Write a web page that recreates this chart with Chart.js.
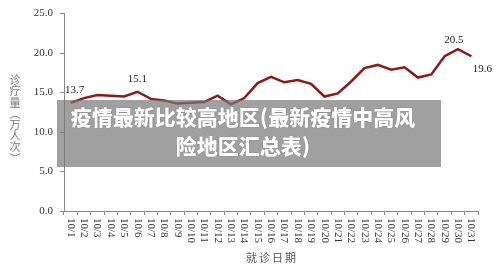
<!DOCTYPE html>
<html>
<head>
<meta charset="utf-8">
<script src="https://cdn.jsdelivr.net/npm/chart.js@4"></script>
<style>
  html, body { margin: 0; padding: 0; background: #fff; }
  #wrap { position: relative; width: 500px; height: 267px; }
  #banner {
    position: absolute; left: 57px; top: 100px; width: 384px; height: 67px;
    background: rgba(119,119,119,0.7);
    color: #fff; font-family: "Noto Sans CJK SC", sans-serif; font-weight: 900;
    font-size: 21px; line-height: 29px; text-align: center;
    padding: 2px 12px 0 0; box-sizing: border-box;
    text-shadow: 0 0 1px rgba(0,0,0,0.4);
  }
</style>
</head>
<body>
<div id="wrap">
  <canvas id="chart" width="500" height="267"></canvas>
  <div id="banner">疫情最新比较高地区(最新疫情中高风<br>险地区汇总表)</div>
</div>
<script>
const days = ['10/1','10/2','10/3','10/4','10/5','10/6','10/7','10/8','10/9','10/10',
  '10/11','10/12','10/13','10/14','10/15','10/16','10/17','10/18','10/19','10/20',
  '10/21','10/22','10/23','10/24','10/25','10/26','10/27','10/28','10/29','10/30','10/31'];
const visits = [13.7, 14.3, 14.7, 14.6, 14.5, 15.1, 14.2, 14.0, 13.6, 13.7,
  13.8, 14.6, 13.5, 14.3, 16.2, 17.0, 16.3, 16.6, 16.1, 14.5,
  14.9, 16.4, 18.1, 18.5, 17.9, 18.2, 16.9, 17.3, 19.6, 20.5, 19.6];
const yTicks = [0, 5, 10, 15, 20, 25];
const labelled = [0, 5, 29, 30];
const yTitle = ['诊', '疗', '量', '︵', '万', '人', '次', '︶'];

// offsets of the value labels from their points
const labelOffsets = { 0: [4, -13], 5: [0, -13], 29: [-4, -9], 30: [11, 13] };

const extras = {
  id: 'extras',
  afterDraw(chart) {
    const c = chart.ctx;
    const xs = chart.scales.x, ys = chart.scales.y;
    c.save();
    // rotated date labels
    c.font = '11px "Liberation Serif"';
    c.fillStyle = '#333';
    c.textAlign = 'left';
    c.textBaseline = 'middle';
    days.forEach((d, i) => {
      c.save();
      c.translate(xs.getPixelForValue(i), ys.bottom + 7);
      c.rotate(Math.PI / 2);
      c.fillText(d, 0, 0);
      c.restore();
    });
    // value labels
    c.textAlign = 'center';
    c.fillStyle = '#222';
    labelled.forEach(i => {
      const o = labelOffsets[i];
      c.fillText(visits[i].toFixed(1), xs.getPixelForValue(i) + o[0], ys.getPixelForValue(visits[i]) + o[1]);
    });
    // y title, stacked characters
    c.font = '11px "Noto Sans CJK SC"';
    c.fillStyle = '#777';
    yTitle.forEach((ch, k) => {
      c.fillText(ch, 15, 80 + k * 11.2);
    });
    // x title
    c.fillStyle = '#555';
    c.letterSpacing = '2px';
    c.fillText('就诊日期', (xs.left + xs.right) / 2 + 1, 258);
    c.restore();
  }
};

new Chart(document.getElementById('chart'), {
  type: 'line',
  data: {
    labels: days,
    datasets: [{
      data: visits,
      borderColor: '#8c1a1a',
      borderWidth: 2.5,
      pointRadius: 0,
      tension: 0,
      fill: false
    }]
  },
  options: {
    responsive: false,
    animation: false,
    layout: { padding: { top: 12, right: 22, left: 0, bottom: 0 } },
    plugins: { legend: { display: false }, tooltip: { enabled: false } },
    scales: {
      x: {
        offset: true,
        grid: { offset: true, drawOnChartArea: false, color: '#888', tickLength: 4 },
        border: { color: '#888' },
        ticks: { display: false },
        afterFit(s) { s.height = 56; }
      },
      y: {
        min: 0, max: 25,
        afterBuildTicks(s) { s.ticks = yTicks.map(v => ({ value: v })); },
        grid: { drawOnChartArea: false, color: '#888', tickLength: 4 },
        border: { color: '#888' },
        ticks: {
          padding: 7,
          color: '#333',
          font: { family: 'Liberation Serif', size: 11 },
          callback: v => v.toFixed(1)
        },
        afterFit(s) { s.width = 64; }
      }
    }
  },
  plugins: [extras]
});
</script>
</body>
</html>
